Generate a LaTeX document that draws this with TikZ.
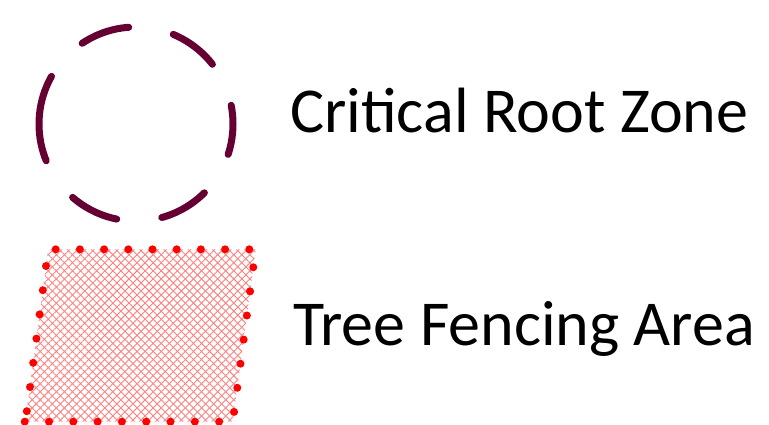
\documentclass[tikz,border=0pt]{standalone}
\usepackage{fontspec}
\setmainfont{Carlito}
\usetikzlibrary{patterns.meta,positioning}
\definecolor{rootzone}{RGB}{102,0,51}
\definecolor{fencered}{RGB}{255,0,0}
\definecolor{hatchred}{RGB}{255,128,128}

\begin{document}
\begin{tikzpicture}[x=1pt,y=1pt]
\tikzstyle{every node}+=[inner sep=0pt]
\tikzstyle{legendtext}=[anchor=base west,font=\fontsize{64}{77}\selectfont]
\useasboundingbox (0,0) rectangle (769,424);
% critical root zone
\coordinate (zone) at (136,300);
\draw [rootzone,line width=7,line cap=round,dash pattern=on 49.8pt off 45.5pt]
  (zone) ++(180:97) arc (180:-180:97);
\node [legendtext] (zonelabel) at (290,291) {Critical Root Zone};
% tree fencing area
\coordinate (tl) at (48.2,174.7);
\coordinate (tr) at (255.7,174.7);
\coordinate (br) at (232.7,2.3);
\coordinate (bl) at (25.3,2.3);
\fill [pattern={Lines[angle=45,distance=5.7pt,line width=0.9pt]},pattern color=hatchred]
  (tl) -- (tr) -- (br) -- (bl) -- cycle;
\fill [pattern={Lines[angle=-45,distance=5.7pt,line width=0.9pt]},pattern color=hatchred]
  (tl) -- (tr) -- (br) -- (bl) -- cycle;
\foreach \i in {0,...,8} {
  \fill [fencered] (55.7+24.2*\i,174.7) circle (4);
  \fill [fencered] (24.7+24.3*\i,2.3) circle (4);
}
\foreach \i in {0,...,6} {
  \fill [fencered] (253.3-3.2*\i,156.7-24.1*\i) circle (4);
  \fill [fencered] (46-3.2*\i,158-24.2*\i) circle (4);
}
\node [legendtext] (fencelabel) at (293,79) {Tree Fencing Area};
\end{tikzpicture}
\end{document}
